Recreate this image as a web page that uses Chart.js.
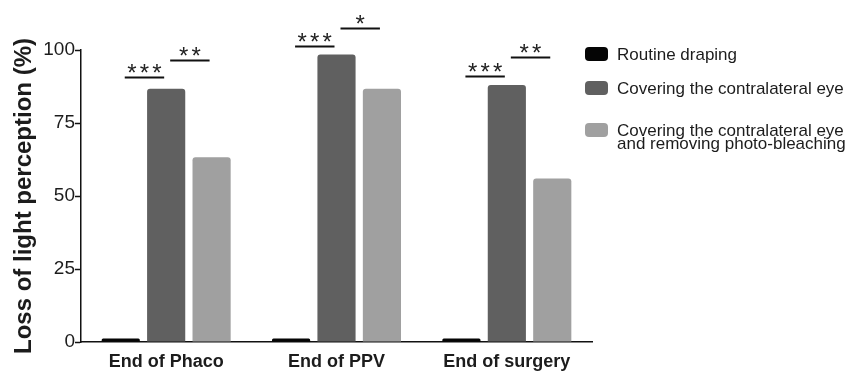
<!DOCTYPE html>
<html>
<head>
<meta charset="utf-8">
<script src="https://cdn.jsdelivr.net/npm/chart.js@4/dist/chart.umd.min.js"></script>
<style>
  html, body { margin: 0; padding: 0; background: #fff; }
  #wrap { width: 858px; height: 373px; position: relative; }
</style>
</head>
<body>
<div id="wrap"><canvas id="c" width="858" height="373"></canvas></div>
<script>
// ---- data ----
const categories = ['End of Phaco', 'End of PPV', 'End of surgery'];
const seriesNames = ['Routine draping', 'Covering the contralateral eye', 'Covering the contralateral eye\nand removing photo-bleaching'];
const routineDraping = [1.2, 1.2, 1.2];
const coveringEye = [86.7, 98.5, 88.0];
const coveringEyeNoBleach = [63.3, 86.7, 56.0];
const yTickValues = [0, 25, 50, 75, 100];
const yAxisTitle = 'Loss of light perception (%)';

// significance brackets
const sigCategory = [0, 0, 1, 1, 2, 2];
const sigFromSeries = [0, 1, 0, 1, 0, 1];
const sigToSeries = [1, 2, 1, 2, 1, 2];
const sigLevel = [90.8, 96.6, 101.4, 107.5, 91.1, 97.6];
const sigStars = ['***', '**', '***', '*', '***', '**'];

const colors = ['#050505', '#606060', '#a0a0a0'];
const textColor = '#1c1c1c';
const FONT = '"Liberation Sans", Arial, Helvetica, sans-serif';

const sigPlugin = {
  id: 'sig',
  afterDatasetsDraw(chart) {
    const ctx = chart.ctx;
    const y = chart.scales.y;
    ctx.save();
    ctx.strokeStyle = '#111';
    ctx.lineWidth = 2;
    ctx.fillStyle = '#222';
    ctx.font = '24px ' + FONT;
    ctx.textAlign = 'center';
    ctx.textBaseline = 'alphabetic';
    for (let i = 0; i < sigLevel.length; i++) {
      const b1 = chart.getDatasetMeta(sigFromSeries[i]).data[sigCategory[i]];
      const b2 = chart.getDatasetMeta(sigToSeries[i]).data[sigCategory[i]];
      const x1 = b1.x + 4, x2 = b2.x - 2;
      const yy = Math.round(y.getPixelForValue(sigLevel[i])) + 0.5;
      ctx.beginPath();
      ctx.moveTo(x1, yy);
      ctx.lineTo(x2, yy);
      ctx.stroke();
      const n = sigStars[i].length;
      const cx = (x1 + x2) / 2;
      const sp = 12.5;
      for (let k = 0; k < n; k++) {
        const sx = cx + (k - (n - 1) / 2) * sp;
        ctx.fillText('*', sx, yy + 3);
      }
    }
    ctx.restore();
  }
};

const legendPlugin = {
  id: 'customLegend',
  afterDraw(chart) {
    const ctx = chart.ctx;
    const rows = [54, 88, 130];
    const sx = 585, sw = 23, sh = 14, tx = 617;
    ctx.save();
    ctx.font = '17px ' + FONT;
    ctx.textBaseline = 'middle';
    ctx.textAlign = 'left';
    chart.data.datasets.forEach((ds, i) => {
      const cy = rows[i];
      ctx.fillStyle = ds.backgroundColor;
      ctx.beginPath();
      ctx.roundRect(sx, cy - sh / 2, sw, sh, 4);
      ctx.fill();
      ctx.fillStyle = textColor;
      const lines = ds.label.split('\n');
      const lh = 13;
      lines.forEach((t, j) => ctx.fillText(t, tx, cy + 1 + j * lh));
    });
    ctx.restore();
  }
};

const seriesData = [routineDraping, coveringEye, coveringEyeNoBleach];

new Chart(document.getElementById('c'), {
  type: 'bar',
  data: {
    labels: categories,
    datasets: seriesData.map((d, i) => ({
      label: seriesNames[i],
      data: d,
      backgroundColor: colors[i],
      borderRadius: 3,
      categoryPercentage: 0.8,
      barPercentage: 0.84
    }))
  },
  options: {
    responsive: false,
    animation: false,
    devicePixelRatio: 1,
    layout: { padding: { top: 50, right: 266, left: 0, bottom: 0 } },
    plugins: {
      legend: { display: false },
      tooltip: { enabled: false }
    },
    scales: {
      x: {
        grid: { display: false, drawOnChartArea: false, drawTicks: true, tickLength: 6, tickColor: '#111', tickWidth: 1.5 },
        border: { display: true, color: '#111', width: 1.5 },
        ticks: { color: textColor, font: { family: FONT, size: 18, weight: 'bold' }, padding: 3 },
        afterFit(s) { s.height = 31; }
      },
      y: {
        min: 0, max: 100,
        afterBuildTicks(s) { s.ticks = yTickValues.map(v => ({ value: v })); },
        grid: { display: true, drawOnChartArea: false, drawTicks: true, tickLength: 6, tickColor: '#111', tickWidth: 1.5 },
        border: { display: true, color: '#111', width: 1.5 },
        ticks: { color: textColor, font: { family: FONT, size: 19 }, padding: 0 },
        title: { display: true, text: yAxisTitle, color: textColor, font: { family: FONT, size: 24, weight: 'bold' }, padding: { top: 10, bottom: 0 } },
        afterFit(s) { s.width = 81; }
      }
    }
  },
  plugins: [sigPlugin, legendPlugin]
});
</script>
</body>
</html>
